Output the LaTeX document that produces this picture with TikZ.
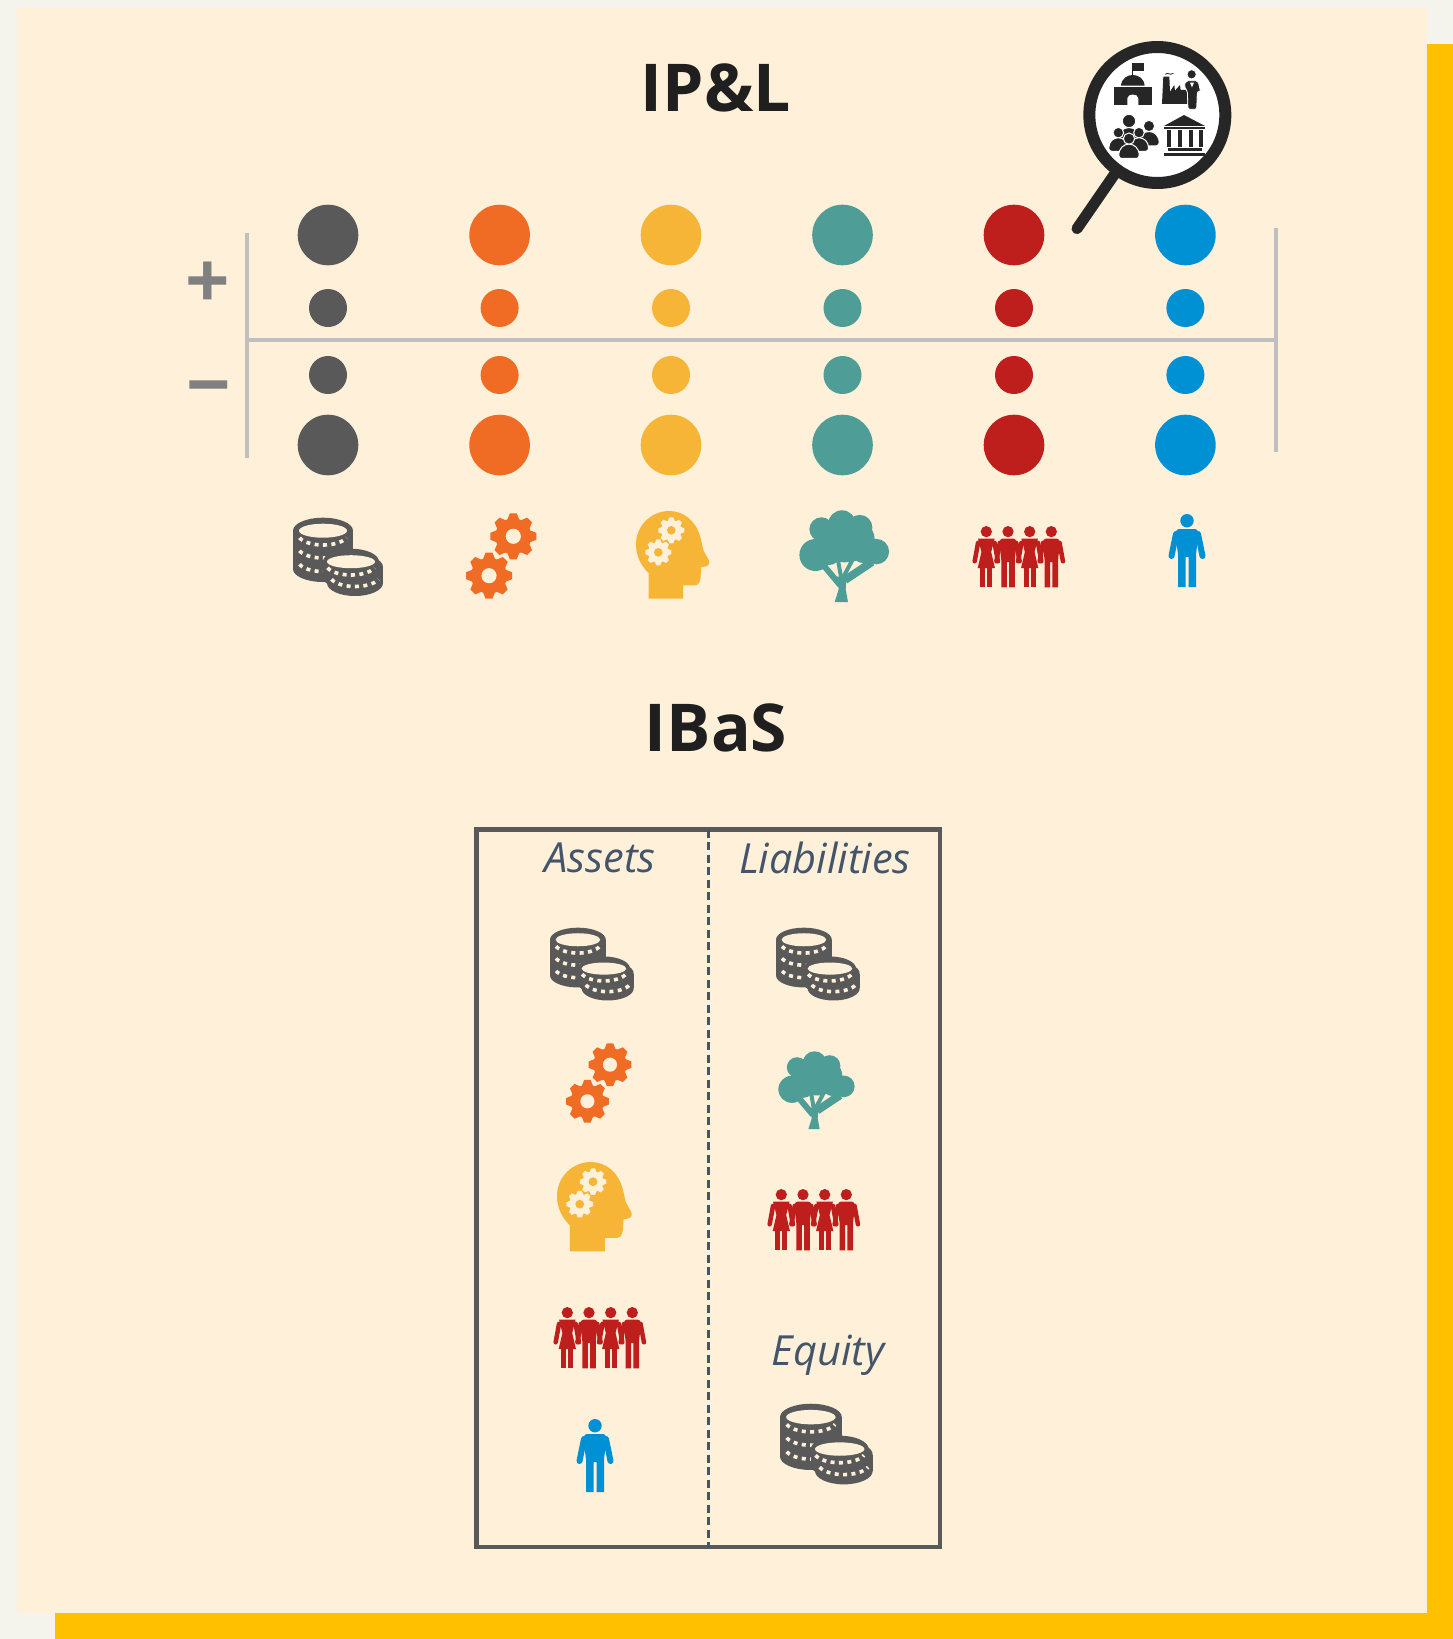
\documentclass[tikz,border=0pt]{standalone}
\usepackage{fontspec}
\setmainfont{Open Sans}
\usetikzlibrary{positioning}
\definecolor{pagebg}{HTML}{F5F4EC}
\definecolor{panel}{HTML}{FEF0D9}
\definecolor{edge}{HTML}{FFC000}
\definecolor{icongray}{HTML}{595959}
\definecolor{iconorange}{HTML}{F06B24}
\definecolor{iconyellow}{HTML}{F7B538}
\definecolor{iconteal}{HTML}{4E9D96}
\definecolor{iconred}{HTML}{BE1F1C}
\definecolor{iconblue}{HTML}{0090D4}
\definecolor{axisgray}{HTML}{BFBFBF}
\definecolor{labelblue}{HTML}{44546A}
\definecolor{lensblack}{HTML}{262626}
% one coin: centre x, top y, bottom y, half width
\newcommand{\coinbody}[4]{
    \fill (#1-#4,#2) rectangle (#1+#4,#3);
    \fill (#1,#2) ellipse[x radius=#4,y radius=13];
    \fill (#1,#3) ellipse[x radius=#4,y radius=13];
}
\newcommand{\coinrow}[3]{
    \draw[panel,line width=3.6pt,dash pattern=on 4pt off 4.4pt] plot[domain=160:20,samples=24] ({#1+#3*cos(\x)},{#2+11*sin(\x)});
}
% gear: centre x, centre y, radius, hole colour
\newcommand{\gearshape}[4]{
    \fill (#1,#2) circle[radius=#3*0.78];
    \foreach \a in {0,45,...,315}{
        \fill[shift={(#1,#2)},rotate=\a] (-0.27*#3,0.7*#3)--(-0.15*#3,#3)--(0.15*#3,#3)--(0.27*#3,0.7*#3)--cycle;
    }
    \fill[#4] (#1,#2) circle[radius=#3*0.33];
}
\newcommand{\manhead}{
    \fill (0,6.7) circle[radius=6.7];
}
\newcommand{\manarms}[1]{
    \draw[line width=#1,line cap=round] (-11,20)--(-15.5,42);
    \draw[line width=#1,line cap=round] (11,20)--(15.5,42);
}
\newcommand{\manbody}{
    \fill[rounded corners=3pt] (-11,25)--(-11,15)--(11,15)--(11,25)--(9,40)[sharp corners]--(9,73)--(1.5,73)--(1.5,43)--(-1.5,43)--(-1.5,73)--(-9,73)--(-9,40)[rounded corners=3pt]--cycle;
}
\newcommand{\womanbody}{
    \fill (-11,15)--(11,15)--(6.5,31)--(11.5,50)--(-11.5,50)--(-6.5,31)--cycle;
    \fill (-8,48) rectangle (-1.2,73);
    \fill (1.2,48) rectangle (8,73);
}
\newcommand{\crowdman}[3]{
    \filldraw[draw=white,line width=1pt] (#1,#2) circle[radius=#3];
    \filldraw[draw=white,line width=1pt,rounded corners=3pt] (#1-1.8*#3,#2+3.5*#3) .. controls (#1-1.8*#3,#2+0.3*#3) and (#1+1.8*#3,#2+0.3*#3) .. (#1+1.8*#3,#2+3.5*#3)--cycle;
}
\tikzset{
    dotbig/.style={circle,inner sep=0pt,minimum size=60.6pt},
    dotsmall/.style={circle,inner sep=0pt,minimum size=38pt},
    axisline/.style={axisgray,line width=3.4pt},
    titletext/.style={text=black!88,font=\fontsize{66}{66}\selectfont\bfseries,inner sep=0pt},
    signtext/.style={text=black!50,font=\fontsize{78}{78}\selectfont\bfseries,inner sep=0pt},
    sidetext/.style={text=labelblue,font=\fontsize{41.5}{42}\selectfont\itshape,inner sep=0pt},
    pics/coins/.style={code={
        \begin{scope}[color=icongray]
            \coinbody{30}{13.7}{52}{30}
            \fill[panel] (30,13.7) ellipse[x radius=24,y radius=7];
            \coinrow{30}{17}{25}
            \coinrow{30}{30}{25}
            \coinrow{30}{43.5}{25}
            \coinbody{58}{44.7}{60}{28}
            \coinbody{62}{50}{66}{28}
            \fill[panel] (58,44.7) ellipse[x radius=24,y radius=6.5];
            \coinrow{58}{47}{25}
            \coinrow{62}{58.5}{25}
        \end{scope}
    }},
    pics/gears/.style={code={
        \begin{scope}[color=iconorange]
            \gearshape{47.3}{23.3}{23}{panel}
            \gearshape{23}{62.7}{23}{panel}
        \end{scope}
    }},
    pics/head/.style={code={
        \fill[iconyellow] (12.7,87.7)--(47,87.7)--(47,74.3)--(59,74.3) .. controls (62,74.3) and (64,71) .. (64.5,67)--(65.3,56)--(69.5,55.5) .. controls (73.5,54.5) and (74,51) .. (72.5,48.5)--(67.5,39.5) .. controls (66,34) and (65.5,30) .. (64.3,26) .. controls (60,10) and (48,0) .. (33,0) .. controls (15,0) and (0,15) .. (0,33) .. controls (0,45) and (5,55) .. (12.7,62)--cycle;
        \begin{scope}[color=panel]
            \gearshape{35.3}{19.3}{13}{iconyellow}
            \gearshape{22.3}{41.3}{13}{iconyellow}
        \end{scope}
    }},
    pics/tree/.style={code={
        \begin{scope}[color=iconteal]
            \foreach \x/\y/\r in {22.4/19.3/12,43/14.3/14,60.7/17.6/12.7,16.4/45/16,77.4/41.6/12.7,30/43/12,64/42/11}{
                \fill (\x,\y) circle[radius=\r];
            }
            \fill (45.7,29.3) ellipse[x radius=30,y radius=23];
            \fill (35.7,92)--(49,92)--(46.7,79.3)--(47.4,66.7)--(37.4,66.7)--(39.7,79.3)--cycle;
            \draw[line width=6pt] (41,75)--(26,57);
            \draw[line width=4pt] (42.4,69.3)--(39,50);
            \draw[line width=4pt] (44,67.6)--(53.4,50);
            \draw[line width=8pt] (46,70)--(73,52);
        \end{scope}
    }},
    pics/people/.style={code={
        \begin{scope}[color=iconred]
            \foreach \x in {13.3,56.7}{
                \begin{scope}[shift={(\x,0)},xscale=0.75,yscale=0.84] \manarms{4.5pt} \womanbody \end{scope}
                \begin{scope}[shift={(\x,0)},scale=0.84] \manhead \end{scope}
            }
            \foreach \x in {35,78.3}{
                \begin{scope}[shift={(\x,0)},xscale=0.75,yscale=0.84] \manarms{4.5pt} \manbody \end{scope}
                \begin{scope}[shift={(\x,0)},scale=0.84] \manhead \end{scope}
            }
        \end{scope}
    }},
    pics/person/.style={code={
        \begin{scope}[color=iconblue] \manhead \manarms{6pt} \manbody \end{scope}
    }}
}
\begin{document}
\begin{tikzpicture}[x=1pt,y=-1pt]
    \useasboundingbox (0,0) rectangle (1453,1639);
    \fill[pagebg] (0,0) rectangle (1453,1639);
    \fill[edge] (55,44) rectangle (1453,1639);
    \fill[pagebg] (0,1612.5) rectangle (55,1639);
    \fill[panel] (17,8) rectangle (1427,1612.5);
    \node[titletext] (iplTitle) at (716,88) {IP\&L};
    \node[titletext] (ibasTitle) at (716,728) {IBaS};
    % axes of the income statement
    \coordinate (axisL) at (247,340);
    \coordinate (axisR) at (1276,340);
    \draw[axisline] (axisL)--(axisR);
    \draw[axisline] (247,233)--(247,458);
    \draw[axisline] (1276,228)--(1276,452);
    \node[signtext] (plusSign) at (208,285) {+};
    \node[signtext] (minusSign) at (209,397) {−};
    \foreach \x/\c/\n in {328/icongray/a,499.6/iconorange/b,671/iconyellow/c,842.5/iconteal/d,1014/iconred/e,1185.4/iconblue/f}{
        \node[dotbig,fill=\c] (top\n) at (\x,235) {};
        \node[dotsmall,fill=\c] (up\n) at (\x,308) {};
        \node[dotsmall,fill=\c] (down\n) at (\x,375) {};
        \node[dotbig,fill=\c] (bot\n) at (\x,445) {};
    }
    \pic at (293,517) {coins};
    \pic at (466,513) {gears};
    \pic at (636,511) {head};
    \pic at (799,510) {tree};
    \pic at (973,526) {people};
    \pic at (1187,514) {person};
    % magnifying glass
    \begin{scope}[shift={(1040,20)},scale=0.3333]
        \draw[lensblack,line width=11pt,line cap=round] (222,465)--(111,626);
        \filldraw[fill=white,draw=lensblack,line width=12pt] (352,285) circle[radius=204];
        \begin{scope}[color=lensblack]
            \fill (222,200) rectangle (335,255);
            \fill (243,197) .. controls (245,175) and (262,165) .. (278,165) .. controls (295,165) and (312,175) .. (314,197)--cycle;
            \fill[white] (262,255) -- (262,235) .. controls (262,220) and (295,220) .. (295,235) -- (295,255)--cycle;
            \draw[line width=1.2pt] (278,130)--(278,168);
            \fill (278,128) rectangle (313,152);
            \fill (366,252)--(370,170)--(388,170)--(390,215)--(403,195)--(405,212)--(420,195)--(422,210)--(442,210)--(442,252)--cycle;
            \draw[line width=0.8pt] (376,163) .. controls (385,155) and (388,168) .. (400,160);
            \filldraw[draw=white,line width=0.8pt] (455,163) circle[radius=14];
            \filldraw[draw=white,line width=0.8pt,rounded corners=2pt] (432,200)--(438,182)--(474,182)--(482,215)--(472,215)--(470,268)--(444,268)--(442,212)--cycle;
            \fill[white] (450,188)--(462,188)--(456,202)--cycle;
            \crowdman{267}{303}{20}
            \crowdman{327}{318}{17}
            \crowdman{235}{338}{16}
            \crowdman{297}{338}{16}
            \crowdman{267}{356}{17}
            \fill (372,318)--(432,285)--(495,318)--cycle;
            \fill (372,321) rectangle (495,326);
            \foreach \x in {381,415,448,478}{
                \fill (\x,330) rectangle (\x+12,382);
            }
            \fill (385,385) rectangle (487,392);
            \fill (372,398) rectangle (495,408);
        \end{scope}
    \end{scope}
    % balance sheet box
    \node[draw=icongray,line width=4.4pt,outer sep=0pt,minimum width=463.5pt,minimum height=717.5pt,inner sep=0pt,anchor=north west] (ibasBox) at (476.5,829.5) {};
    \draw[labelblue,line width=3.4pt,dash pattern=on 8pt off 4.5pt] (ibasBox.north)--(ibasBox.south);
    \node[sidetext] (assetsLabel) at (600,858) {Assets};
    \node[sidetext] (liabLabel) at (825,858) {Liabilities};
    \node[sidetext] (equityLabel) at (828,1355) {Equity};
    \pic[scale=0.93] at (550,927) {coins};
    \pic[scale=0.93] at (776,927) {coins};
    \pic[scale=0.93] at (566,1043) {gears};
    \pic[scale=0.85] at (778,1051) {tree};
    \pic[scale=1.02] at (557,1162) {head};
    \pic at (768,1189) {people};
    \pic at (554,1307) {people};
    \pic at (595,1419) {person};
    \pic[scale=1.03] at (780,1403) {coins};
\end{tikzpicture}
\end{document}
